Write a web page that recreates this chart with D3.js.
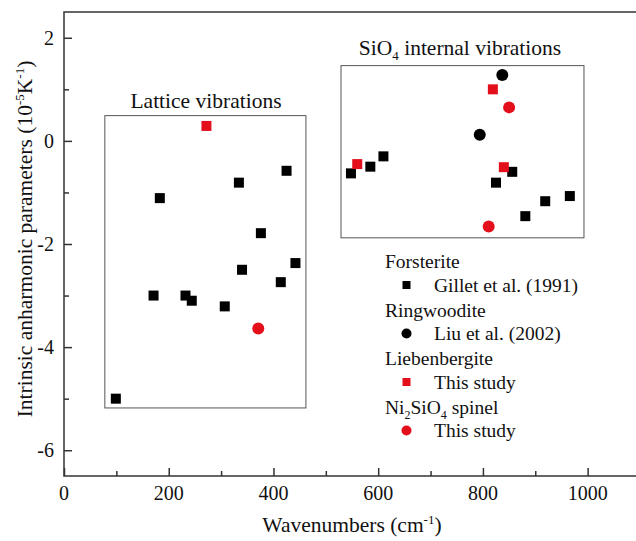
<!DOCTYPE html>
<html>
<head>
<meta charset="utf-8">
<script src="https://cdn.jsdelivr.net/npm/d3@7"></script>
<style>
  body { margin: 0; background: #fff; }
  svg text { font-family: "Liberation Serif", "Times New Roman", serif; fill: #111; }
</style>
</head>
<body>
<svg id="chart" width="636" height="541"></svg>
<script>
// Forsterite, Gillet et al. (1991) - black squares
const forsteriteX = [99, 171, 183, 232, 244, 307, 334, 340, 376, 414, 425, 442,
  548, 585, 610, 825, 856, 881, 919, 966];
const forsteriteY = [-5.0, -3.0, -1.11, -3.0, -3.1, -3.21, -0.81, -2.5, -1.79, -2.74, -0.58, -2.37,
  -0.63, -0.5, -0.3, -0.81, -0.6, -1.46, -1.17, -1.07];

// Ringwoodite, Liu et al. (2002) - black circles
const ringwooditeX = [794, 837];
const ringwooditeY = [0.12, 1.28];

// Liebenbergite, this study - red squares
const liebenX = [272, 560, 819, 840];
const liebenY = [0.29, -0.45, 1.0, -0.51];

// Ni2SiO4 spinel, this study - red circles
const spinelX = [371, 811, 850];
const spinelY = [-3.64, -1.66, 0.65];

const xTicks = [0, 200, 400, 600, 800, 1000];
const yTicks = [-6, -4, -2, 0, 2];

const red = "#e3101c";
const svg = d3.select("#chart");

const x = d3.scaleLinear().domain([0, 1100]).range([64, 640]);
const y = d3.scaleLinear().domain([-6.5, 2.5]).range([476, 12]);

// frame
svg.append("rect")
  .attr("x", x(0)).attr("y", y(2.5))
  .attr("width", x(1100) - x(0)).attr("height", y(-6.5) - y(2.5))
  .attr("fill", "none").attr("stroke", "#333").attr("stroke-width", 1.5);

// axes (ticks inward)
const xAxis = svg.append("g").attr("transform", `translate(0,${y(-6.5)})`)
  .call(d3.axisTop(x).tickValues(d3.range(0, 1101, 100)).tickSize(8).tickFormat(""));
xAxis.selectAll(".tick line").attr("y2", (d) => (d % 200 === 0 ? -8 : -5));
const yAxis = svg.append("g").attr("transform", `translate(${x(0)},0)`)
  .call(d3.axisRight(y).tickValues(d3.range(-6, 3, 1)).tickSize(8).tickFormat(""));
yAxis.selectAll(".tick line").attr("x2", (d) => (d % 2 === 0 ? 8 : 5));
svg.selectAll(".domain").remove();
svg.selectAll(".tick line").attr("stroke", "#333").attr("stroke-width", 1.5);

svg.append("g").selectAll("text").data(xTicks).join("text")
  .attr("x", (d) => x(d)).attr("y", 500)
  .attr("text-anchor", "middle").attr("font-size", 20)
  .text((d) => d);
svg.append("g").selectAll("text").data(yTicks).join("text")
  .attr("x", 54).attr("y", (d) => y(d) + 7)
  .attr("text-anchor", "end").attr("font-size", 20)
  .text((d) => d);

// axis titles
const xt = svg.append("text").attr("x", 352).attr("y", 532)
  .attr("text-anchor", "middle").attr("font-size", 21.5);
xt.append("tspan").text("Wavenumbers (cm");
xt.append("tspan").attr("font-size", 13).attr("dy", -8).text("-1");
xt.append("tspan").attr("dy", 8).text(")");

const yt = svg.append("text").attr("transform", "translate(32,239) rotate(-90)")
  .attr("text-anchor", "middle").attr("font-size", 21.5);
yt.append("tspan").text("Intrinsic anharmonic parameters (10");
yt.append("tspan").attr("font-size", 13).attr("dy", -8).text("-5");
yt.append("tspan").attr("dy", 8).text("K");
yt.append("tspan").attr("font-size", 13).attr("dy", -8).text("-1");
yt.append("tspan").attr("dy", 8).text(")");

// group boxes
const boxes = [
  { x0: 78, x1: 462, y0: -5.18, y1: 0.49 },
  { x0: 529, x1: 993, y0: -1.88, y1: 1.46 }
];
svg.append("g").selectAll("rect").data(boxes).join("rect")
  .attr("x", (d) => x(d.x0)).attr("y", (d) => y(d.y1))
  .attr("width", (d) => x(d.x1) - x(d.x0)).attr("height", (d) => y(d.y0) - y(d.y1))
  .attr("fill", "none").attr("stroke", "#555").attr("stroke-width", 1);

svg.append("text").attr("x", 206).attr("y", 108)
  .attr("text-anchor", "middle").attr("font-size", 21.5).text("Lattice vibrations");
const st = svg.append("text").attr("x", 460).attr("y", 55)
  .attr("text-anchor", "middle").attr("font-size", 21.5);
st.append("tspan").text("SiO");
st.append("tspan").attr("font-size", 13).attr("dy", 5).text("4");
st.append("tspan").attr("dy", -5).text(" internal vibrations");

// markers
const sq = 10, cr = 6;
function squares(xs, ys, color) {
  svg.append("g").selectAll("rect").data(xs).join("rect")
    .attr("x", (d) => x(d) - sq / 2).attr("y", (d, i) => y(ys[i]) - sq / 2)
    .attr("width", sq).attr("height", sq).attr("fill", color);
}
function circles(xs, ys, color) {
  svg.append("g").selectAll("circle").data(xs).join("circle")
    .attr("cx", (d) => x(d)).attr("cy", (d, i) => y(ys[i]))
    .attr("r", cr).attr("fill", color);
}
squares(forsteriteX, forsteriteY, "#000");
circles(ringwooditeX, ringwooditeY, "#000");
squares(liebenX, liebenY, red);
circles(spinelX, spinelY, red);

// legend
const legend = [
  { group: "Forsterite", label: "Gillet et al. (1991)", shape: "square", color: "#000" },
  { group: "Ringwoodite", label: "Liu et al. (2002)", shape: "circle", color: "#000" },
  { group: "Liebenbergite", label: "This study", shape: "square", color: red },
  { group: "Ni2SiO4 spinel", label: "This study", shape: "circle", color: red }
];
const lg = svg.append("g");
legend.forEach((d, i) => {
  const gy = 261.5 + i * 48.5, ly = gy + 23.5;
  const t = lg.append("text").attr("x", 385).attr("y", gy + 6.5).attr("font-size", 19.5);
  if (d.group.startsWith("Ni2")) {
    t.append("tspan").text("Ni");
    t.append("tspan").attr("font-size", 12).attr("dy", 5).text("2");
    t.append("tspan").attr("dy", -5).text("SiO");
    t.append("tspan").attr("font-size", 12).attr("dy", 5).text("4");
    t.append("tspan").attr("dy", -5).text(" spinel");
  } else {
    t.text(d.group);
  }
  if (d.shape === "square") {
    lg.append("rect").attr("x", 402.5).attr("y", ly - 4).attr("width", 8).attr("height", 8).attr("fill", d.color);
  } else {
    lg.append("circle").attr("cx", 406.5).attr("cy", ly).attr("r", 5).attr("fill", d.color);
  }
  lg.append("text").attr("x", 434).attr("y", ly + 6.5).attr("font-size", 19.5).text(d.label);
});
</script>
</body>
</html>
